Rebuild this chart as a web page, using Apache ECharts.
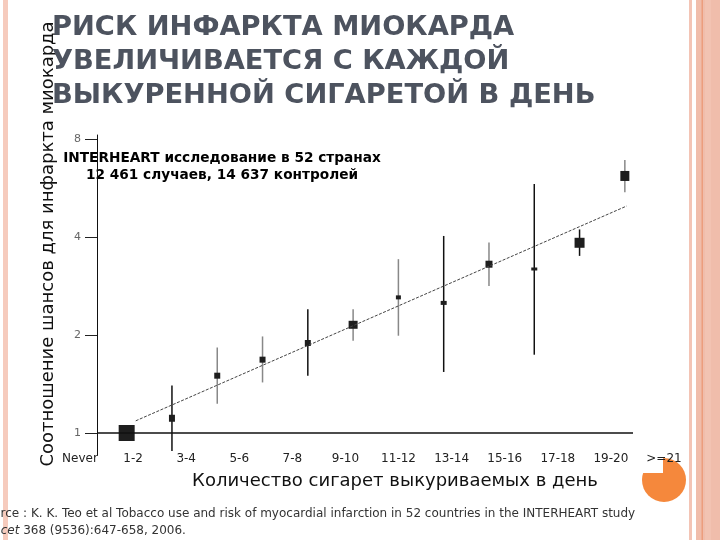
<!DOCTYPE html>
<html><head><meta charset="utf-8">
<script src="https://cdn.jsdelivr.net/npm/echarts@6/dist/echarts.min.js"></script>
<style>html,body{margin:0;padding:0;background:#fff}#c{width:720px;height:540px}</style>
</head><body><div id="c"></div>
<script>
var categories = ['Never','1-2','3-4','5-6','7-8','9-10','11-12','13-14','15-16','17-18','19-20','>=21'];
var oddsRatio = [1, 1.11, 1.50, 1.68, 1.89, 2.15, 2.61, 2.51, 3.30, 3.19, 3.84, 6.16];
var ciLower = [null, 0.88, 1.23, 1.43, 1.50, 1.92, 1.99, 1.54, 2.83, 1.74, 3.50, 5.49];
var ciUpper = [null, 1.40, 1.83, 1.98, 2.40, 2.40, 3.42, 4.03, 3.85, 5.82, 4.22, 6.90];
var trendX = [0.2, 11.04];
var trendY = [1.09, 4.98];
var yTicks = [1, 2, 4, 8];

// styles
var boxW = [16, 6, 6, 6, 6, 9, 5, 6, 7, 6, 10, 9];
var boxH = [16, 7, 6, 6, 6, 8, 4, 4, 7, 3, 10, 10];
var barCol = ['#111','#111','#888','#888','#111','#888','#888','#111','#888','#111','#111','#888'];

var pointData = categories.map(function(c, i){ return [i, oddsRatio[i], ciLower[i], ciUpper[i]]; });
var trendData = trendX.map(function(x, i){ return [x, trendY[i]]; });

var chart = echarts.init(document.getElementById('c'));
var FF = 'DejaVu Sans';
chart.setOption({
  animation: false,
  backgroundColor: '#fff',
  title: {
    text: 'РИСК ИНФАРКТА МИОКАРДА\nУВЕЛИЧИВАЕТСЯ С КАЖДОЙ\nВЫКУРЕННОЙ СИГАРЕТОЙ В ДЕНЬ',
    left: 47, top: 6,
    textStyle: {fontFamily: FF, fontSize: 27.3, fontWeight: 'bold', color: '#4d535f', lineHeight: 34}
  },
  grid: [
    {left: 97, right: 87, top: 135, bottom: 85},
    {left: 80, right: 56, top: 440, height: 10}
  ],
  xAxis: [
    {gridIndex: 0, type: 'value', min: -0.655, max: 11.18, show: false},
    {gridIndex: 1, type: 'category', data: categories, boundaryGap: false,
     axisLine: {show: false}, axisTick: {show: false}, splitLine: {show: false},
     axisLabel: {interval: 0, margin: 3, fontFamily: FF, fontSize: 12, color: '#222'}}
  ],
  yAxis: [
    {gridIndex: 0, type: 'log', logBase: 2, min: 0.856, max: 8.23,
     axisLine: {show: true, onZero: false, lineStyle: {color: '#111', width: 1}},
     axisTick: {show: true, length: 12, customValues: yTicks, lineStyle: {color: '#222', width: 1}},
     axisLabel: {customValues: yTicks, margin: 16, fontFamily: FF, fontSize: 11, color: '#666'},
     splitLine: {show: false}},
    {gridIndex: 1, type: 'value', show: false}
  ],
  series: [
    {
      type: 'line', xAxisIndex: 0, yAxisIndex: 0, data: trendData, symbol: 'none',
      lineStyle: {color: '#444', width: 1, type: [3, 1.5]}, silent: true,
      markLine: {silent: true, symbol: 'none', label: {show: false},
        lineStyle: {color: '#111', width: 1.5, type: 'solid'}, data: [{yAxis: 1}]}
    },
    {
      type: 'custom', xAxisIndex: 0, yAxisIndex: 0, data: pointData, clip: false,
      renderItem: function(params, api){
        var i = api.value(0);
        var c = api.coord([i, api.value(1)]);
        var ch = [];
        var lo = api.value(2), hi = api.value(3);
        if (lo && hi && !isNaN(lo)) {
          var a = api.coord([i, lo]), b = api.coord([i, hi]);
          ch.push({type: 'line', shape: {x1: a[0], y1: a[1], x2: b[0], y2: b[1]},
            style: {stroke: barCol[i], lineWidth: 1.5}});
        }
        var w = boxW[i], h = boxH[i];
        ch.push({type: 'rect', shape: {x: c[0] - w/2, y: c[1] - h/2, width: w, height: h},
          style: {fill: '#1e1e1e'}});
        return {type: 'group', children: ch};
      }
    }
  ],
  graphic: [
    {type: 'rect', z: -5, shape: {x: 3, y: 0, width: 5, height: 540}, style: {fill: '#f6cbbd'}},
    {type: 'rect', z: -5, shape: {x: 689, y: 0, width: 3, height: 540}, style: {fill: '#f3c4b5'}},
    {type: 'rect', z: -5, shape: {x: 696, y: 0, width: 24, height: 540}, style: {fill: '#f0bdab'}},
    {type: 'rect', z: -5, shape: {x: 701.5, y: 0, width: 1.5, height: 540}, style: {fill: '#ec9d7d'}},
    {type: 'rect', z: -5, shape: {x: 705, y: 0, width: 6, height: 540}, style: {fill: '#f2c3b2'}},
    {type: 'circle', z: -5, shape: {cx: 664, cy: 480, r: 22}, style: {fill: '#f5883c'}},
    {type: 'rect', z: -4, shape: {x: 638, y: 440, width: 25, height: 33}, style: {fill: '#fff'}},
    {type: 'text', x: 48, y: 244, rotation: Math.PI/2,
     style: {text: 'Соотношение шансов для инфаркта миокарда', fontFamily: FF, fontSize: 18, fill: '#111',
       textAlign: 'center', textVerticalAlign: 'middle'}},
    {type: 'text', x: 395, y: 481,
     style: {text: 'Количество сигарет выкуриваемых в день', fontFamily: FF, fontSize: 18, fill: '#111',
       textAlign: 'center', textVerticalAlign: 'middle'}},
    {type: 'text', x: 222, y: 158,
     style: {text: 'INTERHEART исследование в 52 странах', fontFamily: FF, fontSize: 13.7, fontWeight: 'bold', fill: '#000',
       textAlign: 'center', textVerticalAlign: 'middle'}},
    {type: 'text', x: 222, y: 175,
     style: {text: '12 461 случаев, 14 637 контролей', fontFamily: FF, fontSize: 13.7, fontWeight: 'bold', fill: '#000',
       textAlign: 'center', textVerticalAlign: 'middle'}},
    {type: 'text', x: -22, y: 514,
     style: {text: 'Source : K. K. Teo et al Tobacco use and risk of myocardial infarction in 52 countries in the INTERHEART study',
       fontFamily: FF, fontSize: 12, fill: '#333', textVerticalAlign: 'middle'}},
    {type: 'text', x: -21, y: 531,
     style: {text: '{i|Lancet} 368 (9536):647-658, 2006.', fontFamily: FF, fontSize: 12, fill: '#333', textVerticalAlign: 'middle',
       rich: {i: {fontStyle: 'italic', fontFamily: FF, fontSize: 12, fill: '#333'}}}}
  ]
});
</script></body></html>
